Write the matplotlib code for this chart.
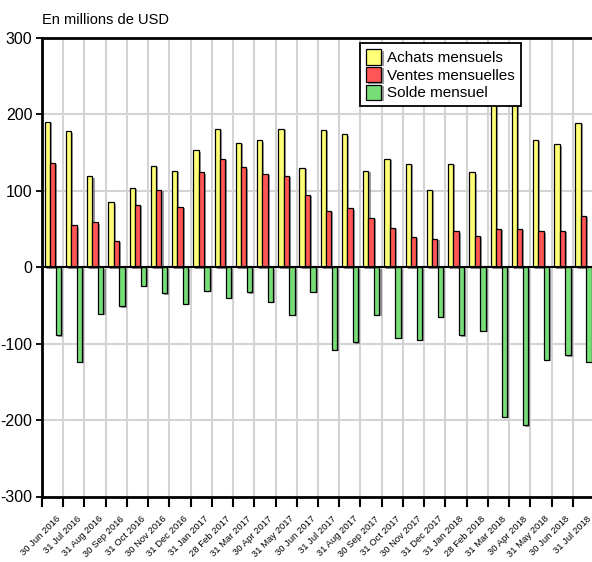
import matplotlib.pyplot as plt
import matplotlib.patheffects as pe
import numpy as np

plt.rcParams['font.family'] = ['Liberation Sans', 'DejaVu Sans']

# Données mensuelles (millions de USD)
mois = ['30 Jun 2016', '31 Jul 2016', '31 Aug 2016', '30 Sep 2016', '31 Oct 2016',
        '30 Nov 2016', '31 Dec 2016', '31 Jan 2017', '28 Feb 2017', '31 Mar 2017',
        '30 Apr 2017', '31 May 2017', '30 Jun 2017', '31 Jul 2017', '31 Aug 2017',
        '30 Sep 2017', '31 Oct 2017', '30 Nov 2017', '31 Dec 2017', '31 Jan 2018',
        '28 Feb 2018', '31 Mar 2018', '30 Apr 2018', '31 May 2018', '30 Jun 2018',
        '31 Jul 2018']
achats = [190, 178, 119, 85, 104, 133, 126, 153, 181, 163, 166, 181, 130,
          180, 174, 126, 142, 135, 101, 135, 124, 245, 255, 167, 161, 189]
ventes = [137, 55, 59, 35, 82, 101, 79, 124, 142, 131, 122, 120, 95,
          74, 77, 65, 52, 40, 37, 47, 41, 50, 50, 47, 48, 67]
solde = [-89, -124, -61, -51, -24, -34, -48, -31, -40, -33, -45, -62, -32,
         -108, -98, -62, -92, -95, -65, -89, -83, -196, -207, -121, -115, -124]

fig = plt.figure(figsize=(5.92, 5.62), dpi=100)
ax = fig.add_axes([42 / 592, 65.5 / 562, 552 / 592, 458.5 / 562])

x = np.arange(len(mois))
w = 0.25
ombre = [pe.SimplePatchShadow(offset=(1.5, -1.0), shadow_rgbFace='#707070', alpha=0.7), pe.Normal()]

b1 = ax.bar(x - 0.25, achats, w, color='#ffff77', edgecolor='black', linewidth=0.9,
            label='Achats mensuels', zorder=3)
b2 = ax.bar(x + 0.0, ventes, w, color='#ff5555', edgecolor='black', linewidth=0.9,
            label='Ventes mensuelles', zorder=3)
b3 = ax.bar(x + 0.27, solde, w, color='#77dd77', edgecolor='black', linewidth=0.9,
            label='Solde mensuel', zorder=3)
for b in (b1, b2, b3):
    for p in b:
        p.set_path_effects(ombre)

ax.set_xlim(-0.5, len(mois) - 0.5)
ax.set_ylim(-300, 300)
ax.set_yticks([-300, -200, -100, 0, 100, 200, 300])
ax.set_yticklabels(['-300', '-200', '-100', '0', '100', '200', '300'], fontsize=11.5)
ax.tick_params(axis='y', direction='out', length=4, width=1.3, pad=3)

# graduations aux limites des mois, étiquettes décalées
ax.set_xticks(np.arange(len(mois) + 1) - 0.5)
ax.set_xticklabels([])
ax.tick_params(axis='x', which='major', direction='out', length=7, width=1.5)
ax.set_xticks(x + 0.3, minor=True)
ax.set_xticklabels(mois, minor=True, rotation=45, ha='right', va='center',
                   rotation_mode='anchor', fontsize=6.8)
ax.tick_params(axis='x', which='minor', length=0, pad=15)

ax.grid(True, which='major', color='#d4d4d4', linewidth=1.5, zorder=0)
ax.set_axisbelow(True)
ax.axhline(0, color='black', linewidth=1.5, zorder=4)

for s in ('left', 'top', 'bottom'):
    ax.spines[s].set_linewidth(2)
ax.spines['right'].set_visible(False)

leg = ax.legend(loc='upper right', bbox_to_anchor=(520.7 / 592, 1 - 43.3 / 562),
                bbox_transform=fig.transFigure, fontsize=11, frameon=True,
                fancybox=False, framealpha=1, edgecolor='black', borderaxespad=0,
                handlelength=1.0, handleheight=1.15, labelspacing=0.12,
                handletextpad=0.35, borderpad=0.4)
leg.get_frame().set_linewidth(1.3)
leg.set_zorder(10)

fig.text(42 / 592, 1 - 24 / 562, 'En millions de USD', fontsize=10.5, va='baseline')

fig.savefig('out.png', dpi=100)
